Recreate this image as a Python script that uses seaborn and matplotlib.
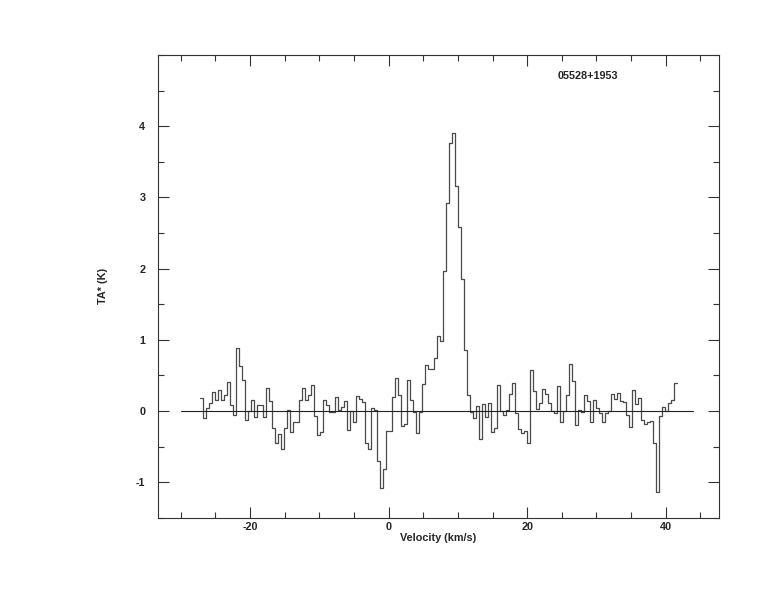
import numpy as np
import pandas as pd
import matplotlib
matplotlib.use('Agg')
import matplotlib.pyplot as plt
import seaborn as sns
from matplotlib.ticker import MultipleLocator

# Spectrum: first channel edge, channel width (km/s) and TA* per channel (K)
v_start = -27.24
dv = 0.433
ta = [0.18, -0.10, 0.04, 0.11, 0.26, 0.15, 0.29, 0.15, 0.22, 0.41,
      0.08, -0.06, 0.88, 0.63, 0.43, -0.13, 0.00, 0.16, -0.08, 0.08,
      0.08, -0.09, 0.32, 0.14, -0.24, -0.45, -0.33, -0.54, -0.24, 0.02,
      -0.29, -0.16, -0.16, 0.16, 0.32, 0.15, 0.22, 0.37, -0.07, -0.34,
      -0.30, 0.15, 0.08, -0.01, -0.02, 0.19, 0.02, 0.05, 0.14, -0.27,
      0.00, -0.15, 0.21, 0.17, 0.12, -0.45, -0.53, 0.04, 0.02, -0.70,
      -1.08, -0.81, -0.28, -0.28, 0.19, 0.46, 0.22, -0.21, -0.18, 0.43,
      0.15, -0.01, -0.31, -0.02, 0.38, 0.65, 0.59, 0.59, 0.75, 1.05,
      0.98, 1.97, 2.92, 3.77, 3.90, 3.16, 2.59, 1.86, 0.85, 0.22,
      -0.01, -0.10, 0.07, -0.39, 0.10, -0.08, 0.11, -0.29, -0.24, 0.37,
      0.00, -0.06, 0.02, 0.24, 0.39, -0.03, -0.25, -0.31, -0.28, -0.45,
      0.58, 0.28, 0.03, 0.11, 0.31, 0.24, 0.11, 0.00, -0.03, 0.35,
      -0.15, 0.00, 0.22, 0.66, 0.42, -0.20, 0.02, -0.01, 0.22, 0.14,
      -0.15, 0.15, 0.04, -0.03, -0.16, -0.03, 0.00, 0.24, 0.17, 0.25,
      0.14, 0.13, -0.06, -0.22, 0.30, 0.10, 0.18, -0.12, -0.18, -0.15,
      -0.14, -0.45, -1.14, -0.07, 0.05, 0.00, 0.11, 0.15, 0.39]

baseline_v = [-30, 44]
baseline_t = [0, 0]
source_name = '05528+1953'

# channel edges, last value repeated so the final step is drawn
edges = v_start + dv * np.arange(len(ta) + 1)
spec = pd.DataFrame({'velocity': edges, 'ta': ta + [ta[-1]]})

sns.set_style('ticks')
plt.rcParams['font.family'] = ['Liberation Sans', 'DejaVu Sans']
plt.rcParams['font.weight'] = 'bold'
plt.rcParams['axes.unicode_minus'] = False

fig = plt.figure(figsize=(7.74, 6.12), dpi=100)
ax = fig.add_axes([0.204, 0.154, 0.725, 0.756])

sns.lineplot(data=spec, x='velocity', y='ta', drawstyle='steps-post',
             estimator=None, color='#4a4a4a', lw=0.9, ax=ax)
sns.lineplot(x=baseline_v, y=baseline_t, color='#222222', lw=0.8, ax=ax)

ax.set_xlim(-33.3, 47.7)
ax.set_ylim(-1.5, 5.0)
ax.set_xticks([-20, 0, 20, 40])
ax.xaxis.set_minor_locator(MultipleLocator(5))
ax.set_yticks([-1, 0, 1, 2, 3, 4])
ax.yaxis.set_minor_locator(MultipleLocator(0.5))
ax.tick_params(which='both', direction='in', top=True, right=True,
               labelsize=7.8, width=0.8, color='#333333')
ax.tick_params(which='major', length=8)
ax.tick_params(which='minor', length=4.5)
ax.tick_params(axis='x', pad=3)
ax.tick_params(axis='y', pad=9)
for s in ax.spines.values():
    s.set_linewidth(0.8)
    s.set_color('#333333')

ax.set_xlabel('Velocity (km/s)', fontsize=7.8, fontweight='bold', labelpad=1)
ax.set_ylabel('TA* (K)', fontsize=7.8, fontweight='bold')
ax.yaxis.set_label_coords(-0.089, 0.5)
ax.text(0.766, 0.955, source_name, transform=ax.transAxes, ha='center',
        va='center', fontsize=7.8, fontweight='bold')

fig.savefig('out.png', dpi=100)
